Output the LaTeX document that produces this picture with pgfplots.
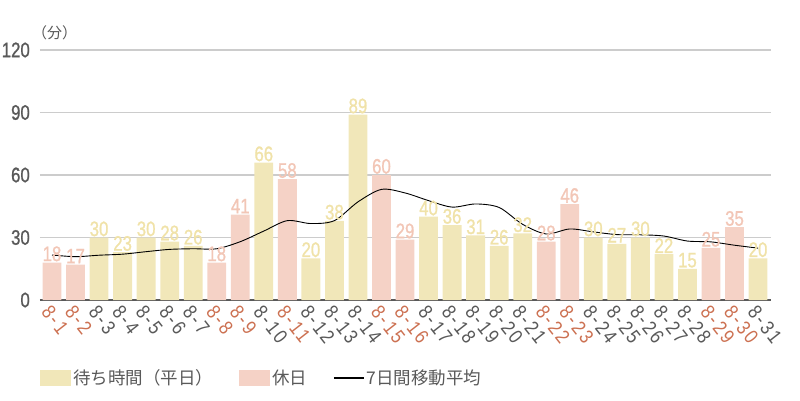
\documentclass[border=0pt]{standalone}
\usepackage{pgfplots}
\pgfplotsset{compat=1.18}
\usepackage{fontspec}
\setmainfont{Noto Sans CJK JP}
\newfontfamily\cond[FakeStretch=0.8, FakeBold=1]{Liberation Sans}
\newfontfamily\condr[FakeStretch=0.85, LetterSpace=12]{Liberation Sans}
\definecolor{wk}{HTML}{F1E7B9}
\definecolor{wklab}{HTML}{F0E2A8}
\definecolor{hd}{HTML}{F5D2C6}
\definecolor{hdlab}{HTML}{F2C6B6}
\definecolor{hdtick}{HTML}{CC7152}
\definecolor{txt}{HTML}{595959}
\newcommand{\hd}[1]{\textcolor{hdtick}{#1}}
\begin{document}
\begin{tikzpicture}
\begin{axis}[
  at={(0,0)}, anchor=south west,
  scale only axis,
  width=731pt, height=250pt,
  xmin=0.49, xmax=31.55,
  ymin=0, ymax=120,
  ytick={0,30,60,90,120},
  xtick={1,...,31},
  xticklabels={\hd{8-1},\hd{8-2},8-3,8-4,8-5,8-6,8-7,\hd{8-8},\hd{8-9},8-10,\hd{8-11},8-12,8-13,8-14,\hd{8-15},\hd{8-16},8-17,8-18,8-19,8-20,8-21,\hd{8-22},\hd{8-23},8-24,8-25,8-26,8-27,8-28,\hd{8-29},\hd{8-30},8-31},
  major tick length=0pt,
  ymajorgrids=true,
  grid style={color=black!20, line width=1.2pt},
  axis x line*=bottom,
  axis y line*=left,
  y axis line style={draw=none},
  x axis line style={color=txt, line width=1.2pt},
  /pgf/number format/assume math mode=true,
  yticklabel style={font=\cond\fontsize{21}{21}\selectfont, text=txt, anchor=east, inner sep=0pt, xshift=-10pt},
  xticklabel style={font=\condr\fontsize{20}{20}\selectfont, text=txt, inner sep=0pt, xshift=-6pt, yshift=-8pt, rotate=-52, anchor=west},
  ybar, bar width=0.8, bar shift=0pt,
  legend columns=3,
  legend style={at={(0,-0.312)}, anchor=west, draw=none, fill=none, inner sep=0pt,
    font=\fontsize{17.5}{17.5}\selectfont, text=txt,
    nodes={inner sep=2pt},
    /tikz/every even column/.append style={column sep=24pt}},
  legend cell align=left,
  clip=false,
]
\addplot[fill=wk, draw=none,
  nodes near coords,
  nodes near coords style={font=\cond\fontsize{21}{21}\selectfont, text=wklab, anchor=south, inner sep=0pt, yshift=1pt},
  legend image code/.code={\fill[wk] (0pt,-8pt) rectangle (31pt,8pt);}]
  coordinates {(3,30)(4,23)(5,30)(6,28)(7,26)(10,66)(12,20)(13,38)(14,89)(17,40)(18,36)(19,31)(20,26)(21,32)(24,30)(25,27)(26,30)(27,22)(28,15)(31,20)};
\addlegendentry{待ち時間（平日）}
\addplot[fill=hd, draw=none,
  nodes near coords,
  nodes near coords style={font=\cond\fontsize{21}{21}\selectfont, text=hdlab, anchor=south, inner sep=0pt, yshift=1pt},
  legend image code/.code={\fill[hd] (0pt,-8pt) rectangle (31pt,8pt);}]
  coordinates {(1,18)(2,17)(8,18)(9,41)(11,58)(15,60)(16,29)(22,28)(23,46)(29,25)(30,35)};
\addlegendentry{休日}
\addplot[sharp plot, smooth, tension=0.5, color=black, line width=0.9pt, mark=none,
  legend image code/.code={\draw[black, line width=1.2pt] (0pt,0pt) -- (30pt,0pt);}]
  coordinates {(1,21.6)(2,20.8)(3,21.5)(4,22.0)(5,23.2)(6,24.3)(7,24.6)(8,24.6)(9,28.0)(10,33.1)(11,38.1)(12,36.7)(13,38.1)(14,47.1)(15,53.1)(16,51.4)(17,47.7)(18,44.6)(19,46.1)(20,44.4)(21,36.3)(22,31.7)(23,34.1)(24,32.7)(25,31.4)(26,31.3)(27,30.7)(28,28.3)(29,27.9)(30,26.3)(31,24.9)};
\addlegendentry{7日間移動平均}
\node[anchor=west, font=\fontsize{15}{15}\selectfont, text=txt, inner sep=0pt] at ([xshift=-8pt, yshift=17pt]rel axis cs:0,1) {（分）};
\end{axis}
\useasboundingbox (-40pt,-100pt) rectangle (760pt,300pt);
\end{tikzpicture}
\end{document}
